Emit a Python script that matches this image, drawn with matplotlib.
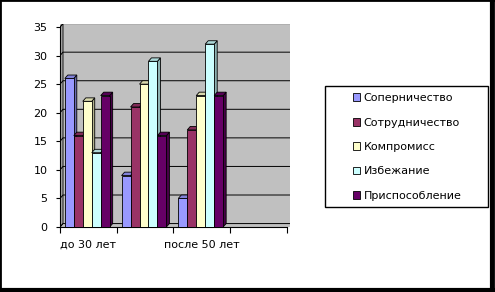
import matplotlib
matplotlib.use('Agg')
import matplotlib.pyplot as plt
from matplotlib.patches import Rectangle, Polygon
from matplotlib.lines import Line2D
import matplotlib.colors as mcolors

categories = ['до 30 лет', '', 'после 50 лет', '']
series_names = ['Соперничество', 'Сотрудничество', 'Компромисс', 'Избежание', 'Приспособление']
sopernichestvo = [26, 9, 5]
sotrudnichestvo = [16, 21, 17]
kompromiss = [22, 25, 23]
izbezhanie = [13, 29, 32]
prisposoblenie = [23, 16, 23]
yticks = [0, 5, 10, 15, 20, 25, 30, 35]

series = [sopernichestvo, sotrudnichestvo, kompromiss, izbezhanie, prisposoblenie]
colors = ['#9999FF', '#993366', '#FFFFCC', '#CCFFFF', '#660066']

plt.rcParams['font.family'] = ['DejaVu Sans']

fig = plt.figure(figsize=(4.95, 2.92), dpi=100)
ax = fig.add_axes([60 / 495, 65 / 292, 230 / 495, 203.4 / 292])

# depth of the fake 3d effect, in data units
dx = 0.053
dy = 0.6
w = 0.158
ymax = yticks[-1]

ax.set_xlim(-0.5, len(categories) - 0.5 + dx)
ax.set_ylim(0, ymax + dy)
ax.set_facecolor('#C0C0C0')

# side wall
ax.add_patch(Polygon([(-0.5, 0), (-0.5 + dx, dy), (-0.5 + dx, ymax + dy), (-0.5, ymax)],
                     closed=True, facecolor='#A8A8A8', edgecolor='black', lw=0.6, zorder=1))

# gridlines on the back wall
for t in yticks:
    ax.plot([-0.5, -0.5 + dx, len(categories) - 0.5 + dx], [t, t + dy, t + dy],
            color='black', lw=0.7, zorder=1)


def shade(c, f):
    r, g, b = mcolors.to_rgb(c)
    return (r * f, g * f, b * f)


handles = []
for j, (vals, col) in enumerate(zip(series, colors)):
    for i, h in enumerate(vals):
        x0 = i - 0.02 + (j - 2.5) * w
        x1 = x0 + w
        ax.add_patch(Polygon([(x1, 0), (x1 + dx, dy), (x1 + dx, h + dy), (x1, h)], closed=True,
                             facecolor=shade(col, 0.7), edgecolor='black', lw=0.6, zorder=3 + j))
        ax.add_patch(Polygon([(x0, h), (x0 + dx, h + dy), (x1 + dx, h + dy), (x1, h)], closed=True,
                             facecolor=shade(col, 0.85), edgecolor='black', lw=0.6, zorder=3 + j))
        ax.add_patch(Rectangle((x0, 0), w, h, facecolor=col, edgecolor='black', lw=0.6, zorder=3 + j))
    handles.append(Rectangle((0, 0), 1, 1, facecolor=col, edgecolor='black', lw=0.6))

for s in ['top', 'right']:
    ax.spines[s].set_visible(False)
ax.spines['left'].set_bounds(0, ymax)
ax.spines['left'].set_linewidth(0.8)
ax.spines['bottom'].set_linewidth(0.8)
ax.spines['bottom'].set_bounds(-0.5, len(categories) - 0.5)

ax.set_yticks(yticks)
ax.tick_params(axis='y', length=3, width=0.8, pad=6, labelsize=8)
ax.set_xticks(range(len(categories)))
ax.set_xticklabels(categories)
ax.set_xticks([k - 0.5 for k in range(len(categories) + 1)], minor=True)
ax.tick_params(axis='x', which='major', length=0, pad=9, labelsize=8)
ax.tick_params(axis='x', which='minor', length=4, width=0.8)

# legend with its own frame
fig.patches.append(Rectangle((325 / 495, 85 / 292), 163 / 495, 121 / 292, transform=fig.transFigure,
                             facecolor='white', edgecolor='black', lw=1.0, zorder=0))
fig.legend(handles, series_names, loc='center', bbox_to_anchor=(407 / 495, 145 / 292),
           frameon=False, fontsize=8, handlelength=0.7, handleheight=0.7,
           handletextpad=0.3, labelspacing=1.3)

# outer frame, heavier on the right and bottom
fig.patches.append(Rectangle((0, 0), 1, 1, transform=fig.transFigure, fill=False,
                             edgecolor='black', lw=2))
fig.lines.append(Line2D([0, 1], [0.006, 0.006], transform=fig.transFigure, color='black', lw=3))
fig.lines.append(Line2D([0.994, 0.994], [0, 1], transform=fig.transFigure, color='black', lw=3))

fig.savefig('out.png', dpi=100)
